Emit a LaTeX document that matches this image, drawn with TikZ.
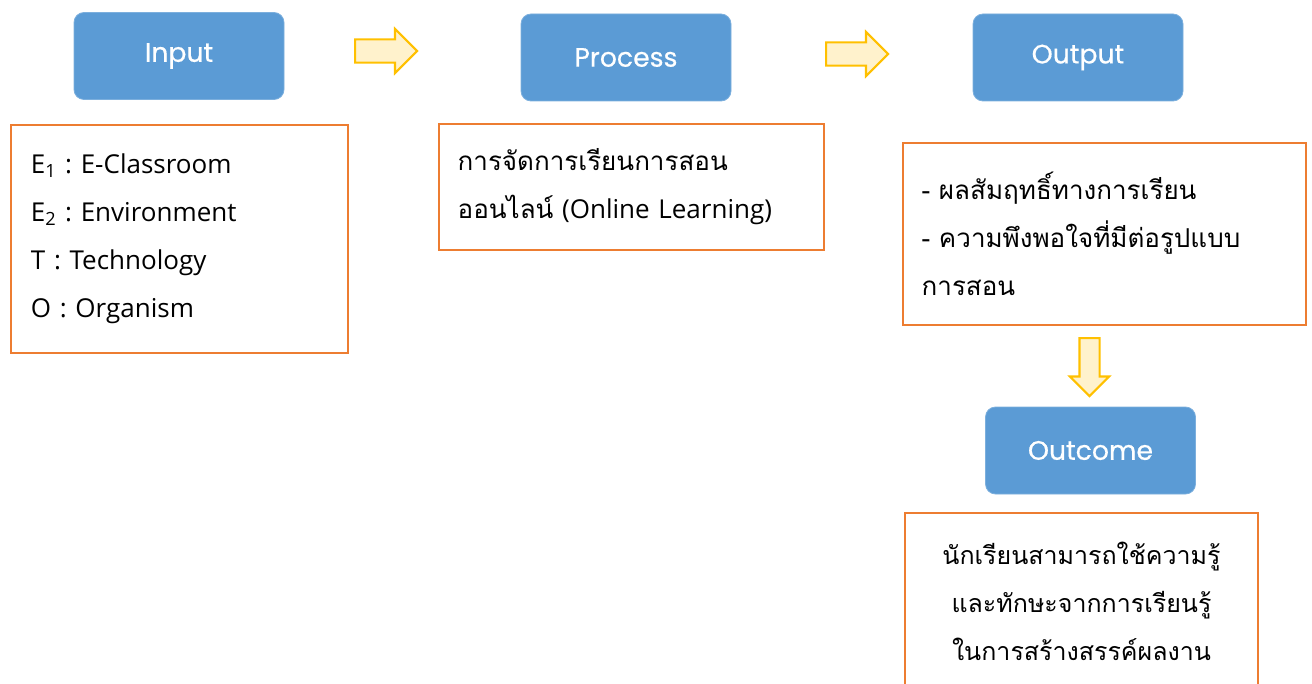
\documentclass[tikz,border=0pt]{standalone}
\usepackage{fontspec}
\setmainfont{Loma}[Script=Thai]
\newfontfamily\headfont{Poppins}[FakeBold=0.5]
\newfontfamily\latinfont{Open Sans}
\usetikzlibrary{positioning,shapes.arrows}
\frenchspacing

\definecolor{headblue}{HTML}{5B9BD5}
\definecolor{boxorange}{HTML}{ED7D31}
\definecolor{arrowfill}{HTML}{FFF2CC}
\definecolor{arrowline}{HTML}{FFC000}

\tikzset{
  headbox/.style={rectangle,rounded corners=7.5pt,fill=headblue,draw=headblue!80!white,
    line width=0.6pt,text=white,font=\headfont\fontsize{20}{22}\selectfont,
    minimum width=157.5pt,minimum height=65.25pt,inner sep=0pt},
  textbox/.style={rectangle,draw=boxorange,line width=1.6pt,
    font=\fontsize{19.5}{36}\selectfont,inner xsep=14pt,inner ysep=0pt},
  flowarrow/.style={single arrow,draw=arrowline,fill=arrowfill,line width=1.6pt,anchor=tail,
    single arrow tip angle=90,single arrow head extend=7.9pt,inner xsep=0pt,inner ysep=7.9pt}
}

\begin{document}
\begin{tikzpicture}[x=0.75pt,y=-0.75pt]
  \useasboundingbox (0,0) rectangle (1312,684);

  % heading boxes
  \node[headbox] (input)   at (179,56)   {Input};
  \node[headbox] (process) at (626,57.5) {Process};
  \node[headbox] (output)  at (1078,57.5){Output};
  \node[headbox] (outcome) at (1090.5,450.5) {Outcome};

  % orange boxes
  \node[textbox,text width=222.75pt,inner xsep=15pt,minimum height=171pt,align=left,
    font=\latinfont\fontsize{19.5}{36}\selectfont] (inputtxt) at (179.5,239)
    {E\textsubscript{1} : E-Classroom\\E\textsubscript{2} : Environment\\T : Technology\\O : Organism};
  \node[textbox,text width=260.75pt,minimum height=94.5pt,align=left] (processtxt) at (631.5,187)
    {การจัดการเรียนการสอน\\ออนไลน์ {\latinfont(Online Learning)}};
  \node[textbox,text width=274.25pt,minimum height=136.5pt,align=left] (outputtxt) at (1104.5,234)
    {- ผลสัมฤทธิ์ทางการเรียน\\- ความพึงพอใจที่มีต่อรูปแบบ\\การสอน};
  \node[textbox,text width=236.75pt,minimum height=132.75pt,align=center,
    font=\fontsize{18.75}{36}\selectfont] (outcometxt) at (1081.5,601.5)
    {นักเรียนสามารถใช้ความรู้\\และทักษะจากการเรียนรู้\\ในการสร้างสรรค์ผลงาน};

  % block arrows
  \node[flowarrow,minimum height=46.5pt] (arr1) at (354,51) {};
  \node[flowarrow,minimum height=46.5pt] (arr2) at (825,54) {};
  \node[flowarrow,minimum height=43.5pt,inner ysep=6.75pt,single arrow head extend=7.1pt,
    rotate=-90] (arr3) at (1089.5,337) {};
\end{tikzpicture}
\end{document}
